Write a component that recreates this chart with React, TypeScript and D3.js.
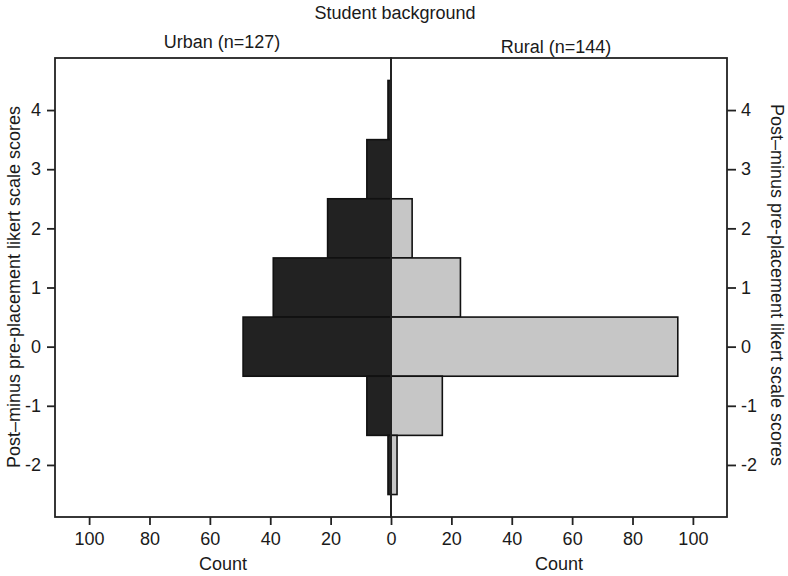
import React, { useEffect, useRef } from "react";
import * as d3 from "d3";

// Likert score change bins (bar centres), top to bottom
const scores = [4, 3, 2, 1, 0, -1, -2];
// Counts per bin
const urbanCounts = [1, 8, 21, 39, 49, 8, 1];
const ruralCounts = [0, 0, 7, 23, 95, 17, 2];
const scoreTicks = [4, 3, 2, 1, 0, -1, -2];
const countTicksLeft = [20, 40, 60, 80, 100];
const countTicksRight = [0, 20, 40, 60, 80, 100];

const WIDTH = 788;
const HEIGHT = 576;
const FONT = "'Liberation Sans', Arial, sans-serif";

export default function App() {
  const ref = useRef<SVGSVGElement | null>(null);

  useEffect(() => {
    const svg = d3.select(ref.current);
    svg.selectAll("*").remove();

    const left = 55, right = 727, top = 58, bottom = 517, mid = 391;

    const y = d3.scaleLinear().domain([-2.88, 4.88]).range([bottom, top]);
    const xL = d3.scaleLinear().domain([0, 111.3]).range([mid, left]);
    const xR = d3.scaleLinear().domain([0, 111.3]).range([mid, right]);

    const g = svg.append("g");

    // urban bars (left, dark)
    g.selectAll(".urban")
      .data(scores.map((s, i) => ({ s, c: urbanCounts[i] })).filter((d) => d.c > 0))
      .enter().append("rect")
      .attr("class", "urban")
      .attr("x", (d) => xL(d.c))
      .attr("width", (d) => xL(0) - xL(d.c))
      .attr("y", (d) => y(d.s + 0.5))
      .attr("height", (d) => y(d.s - 0.5) - y(d.s + 0.5))
      .style("fill", "#222")
      .style("stroke", "#111")
      .style("stroke-width", 1.6);

    // rural bars (right, light)
    g.selectAll(".rural")
      .data(scores.map((s, i) => ({ s, c: ruralCounts[i] })).filter((d) => d.c > 0))
      .enter().append("rect")
      .attr("class", "rural")
      .attr("x", xR(0))
      .attr("width", (d) => xR(d.c) - xR(0))
      .attr("y", (d) => y(d.s + 0.5))
      .attr("height", (d) => y(d.s - 0.5) - y(d.s + 0.5))
      .style("fill", "#c6c6c6")
      .style("stroke", "#111")
      .style("stroke-width", 1.6);

    // panel frames
    [[left, mid], [mid, right]].forEach(([a, b]) => {
      g.append("rect")
        .attr("x", a).attr("y", top)
        .attr("width", b - a).attr("height", bottom - top)
        .style("fill", "none")
        .style("stroke", "#222")
        .style("stroke-width", 1.8);
    });

    const styleAxis = (ax: any) => {
      ax.select(".domain").remove();
      ax.selectAll("line").style("stroke", "#222").style("stroke-width", 1.8);
      ax.selectAll("text")
        .style("font-family", FONT)
        .style("font-size", "18px")
        .style("fill", "#1a1a1a");
    };
    const plain = (d: any) => String(d);

    g.append("g")
      .attr("transform", `translate(0,${bottom})`)
      .call(d3.axisBottom(xL).tickValues(countTicksLeft).tickSize(8).tickPadding(7).tickFormat(plain))
      .call(styleAxis);
    g.append("g")
      .attr("transform", `translate(0,${bottom})`)
      .call(d3.axisBottom(xR).tickValues(countTicksRight).tickSize(8).tickPadding(7).tickFormat(plain))
      .call(styleAxis);
    g.append("g")
      .attr("transform", `translate(${left},0)`)
      .call(d3.axisLeft(y).tickValues(scoreTicks).tickSize(8).tickPadding(6).tickFormat(plain))
      .call(styleAxis);
    g.append("g")
      .attr("transform", `translate(${right},0)`)
      .call(d3.axisRight(y).tickValues(scoreTicks).tickSize(9).tickPadding(5).tickFormat(plain))
      .call(styleAxis);

    const label = (txt: string, x: number, yy: number, rot = 0) =>
      g.append("text")
        .attr("transform", `translate(${x},${yy}) rotate(${rot})`)
        .attr("text-anchor", "middle")
        .style("font-family", FONT)
        .style("font-size", "18px")
        .style("fill", "#1a1a1a")
        .text(txt);

    label("Student background", 395, 19);
    label("Urban (n=127)", 222, 48);
    label("Rural (n=144)", 556, 53);
    label("Count", (left + mid) / 2, 570);
    label("Count", (mid + right) / 2, 570);
    label("Post\u2013minus pre-placement likert scale scores", 20, 287, -90);
    label("Post\u2013minus pre-placement likert scale scores", 771, 285, 90);
  }, []);

  return (
    <svg
      ref={ref}
      width={WIDTH}
      height={HEIGHT}
      style={{ position: "absolute", left: 0, top: 0, background: "#fff" }}
    />
  );
}
